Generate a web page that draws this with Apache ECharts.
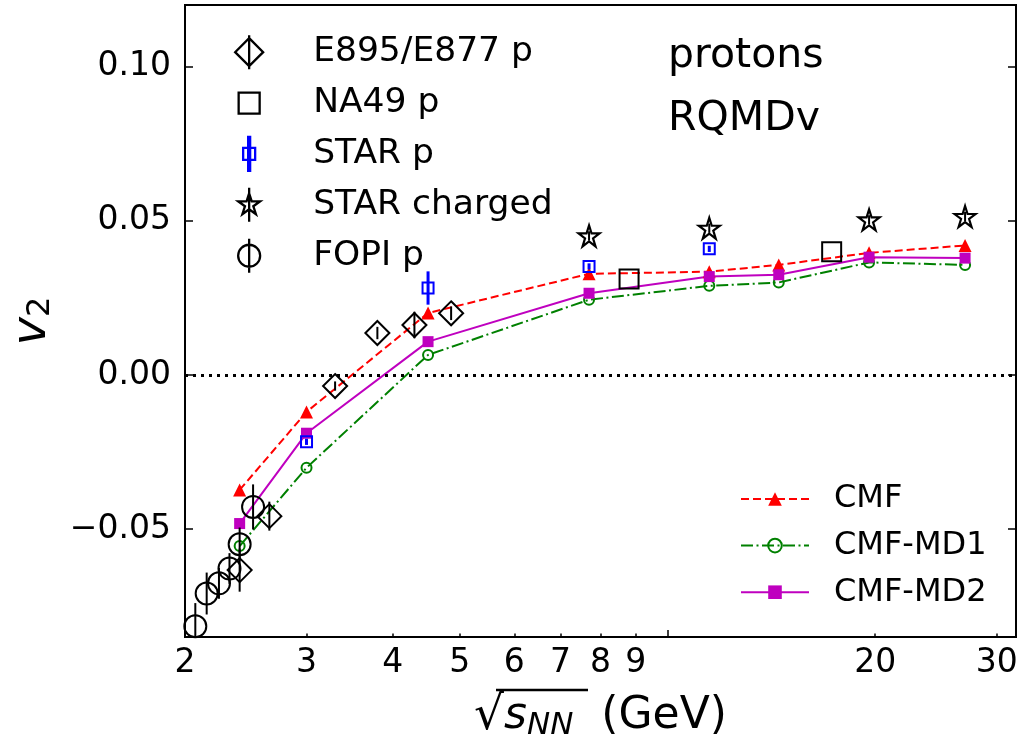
<!DOCTYPE html>
<html>
<head>
<meta charset="utf-8">
<script src="https://cdn.jsdelivr.net/npm/echarts@6/dist/echarts.min.js"></script>
<style>
html,body{margin:0;padding:0;background:#fff;}
#chart{width:1035px;height:742px;}
</style>
</head>
<body>
<div id="chart"></div>
<script>
// ---- data ----
const xTickValues = [3, 4, 5, 6, 7, 8, 9, 20, 30];
const xMajorTickValues = [10];
const xTickLabels = [2, 3, 4, 5, 6, 7, 8, 9, 20, 30];
const yTickValues = [-0.05, 0, 0.05, 0.10];

const energyModel = [2.4, 3.0, 4.5, 7.7, 11.5, 14.5, 19.6, 27];
const v2CMF = [-0.0373, -0.0120, 0.0201, 0.0328, 0.0335, 0.0357, 0.0396, 0.0420];
const v2MD1 = [-0.0555, -0.0301, 0.0065, 0.0244, 0.0289, 0.0300, 0.0365, 0.0357];
const v2MD2 = [-0.0482, -0.0189, 0.0108, 0.0265, 0.0319, 0.0325, 0.0382, 0.0379];

const energyE895 = [2.4, 2.65, 3.3, 3.8, 4.3, 4.86];
const v2E895 = [-0.0633, -0.0458, -0.0036, 0.0136, 0.0162, 0.0200];
const errE895 = [0.0070, 0.0047, 0.0015, 0.0020, 0.0043, 0.0022];

const energyNA49 = [8.8, 17.3];
const v2NA49 = [0.0311, 0.0400];

const energySTARp = [3.0, 4.5, 7.7, 11.5];
const v2STARp = [-0.0217, 0.0282, 0.0352, 0.0409];
const errSTARp = [0.0010, 0.0054, 0.0010, 0.0010];

const energySTARch = [7.7, 11.5, 19.6, 27];
const v2STARch = [0.0451, 0.0476, 0.0503, 0.0514];
const errSTARch = [0.0015, 0.0015, 0.0015, 0.0015];

const energyFOPI = [2.07, 2.15, 2.24, 2.32, 2.40, 2.51];
const v2FOPI = [-0.0815, -0.0709, -0.0676, -0.0628, -0.0549, -0.0428];
const errFOPI = [0.0075, 0.0068, 0.0050, 0.0050, 0.0054, 0.0073];

// ---- helpers ----
const FONT = 'DejaVu Sans';
const pairs = (xs, ys) => xs.map((x, i) => [x, ys[i]]);
const STAR = 'M0,-100 L22.45,-30.9 L95.1,-30.9 L36.3,11.8 L58.8,80.9 L0,38.2 L-58.8,80.9 L-36.3,11.8 L-95.1,-30.9 L-22.45,-30.9 Z';

function errorSeries(name, xs, ys, es, color, width) {
  return {
    name: name, type: 'custom', clip: true, z: 4, silent: true,
    data: xs.map((x, i) => [x, ys[i] - es[i], ys[i] + es[i]]),
    encode: { x: 0, y: [1, 2] },
    renderItem: function (params, api) {
      const a = api.coord([api.value(0), api.value(1)]);
      const b = api.coord([api.value(0), api.value(2)]);
      return { type: 'line', shape: { x1: a[0], y1: a[1], x2: b[0], y2: b[1] },
               style: { stroke: color, lineWidth: width } };
    }
  };
}

const openStyle = (c, w) => ({ color: 'rgba(255,255,255,0)', borderColor: c, borderWidth: w, opacity: 1 });

// legend icons (pixel units, padded to a 28x34 box)
const PAD = 'M-14,-17 M14,17 ';
const iconDiamond = 'path://' + PAD + 'M0,-14 L14,0 L0,14 L-14,0 Z M0,-17 L0,17';
const iconSquare = 'path://' + PAD + 'M-10.5,-10.5 L10.5,-10.5 L10.5,10.5 L-10.5,10.5 Z';
const iconSTARp = 'path://' + PAD + 'M-6,-6 L6,-6 L6,6 L-6,6 Z M-1,-17 L1,-17 L1,17 L-1,17 Z';
const iconStar = 'path://' + PAD + 'M0,-11.5 L2.58,-3.55 L10.94,-3.55 L4.17,1.36 L6.76,9.3 L0,4.39 L-6.76,9.3 L-4.17,1.36 L-10.94,-3.55 L-2.58,-3.55 Z M0,-17 L0,17';
const iconCircle = 'path://' + PAD + 'M-11,0 A11,11 0 1,0 11,0 A11,11 0 1,0 -11,0 Z M0,-17 L0,17';

const chart = echarts.init(document.getElementById('chart'), null, { renderer: 'canvas' });

const commonX = { type: 'log', logBase: 10, min: 2, max: 32, splitLine: { show: false } };
const commonY = { type: 'value', min: -0.085, max: 0.12, splitLine: { show: false } };

const option = {
  animation: false,
  backgroundColor: '#fff',
  textStyle: { fontFamily: FONT },
  grid: { left: 185, right: 19, top: 5, bottom: 105, show: true, borderColor: '#000', borderWidth: 2,
          backgroundColor: 'transparent', containLabel: false, outerBoundsMode: 'none' },
  xAxis: [
    Object.assign({}, commonX, {
      position: 'bottom',
      axisLine: { show: true, onZero: false, lineStyle: { color: '#000', width: 2 } },
      axisTick: { show: true, inside: true, length: 3.5, lineStyle: { color: '#000', width: 1.5 }, customValues: xTickValues },
      axisLabel: { show: true, customValues: xTickLabels, fontSize: 33, color: '#000', margin: 10, fontFamily: FONT,
                   formatter: v => String(Math.round(v)) },
      minorTick: { show: false },
      name: '{sq|\u221A}{s|s}{sub|NN}{t|  (GeV)}',
      nameLocation: 'middle', nameGap: 55,
      nameTextStyle: { color: '#000', fontFamily: FONT, rich: {
        sq: { fontSize: 47, fontFamily: FONT, color: '#000' },
        s: { fontSize: 44, fontStyle: 'italic', fontFamily: FONT, color: '#000' },
        sub: { fontSize: 31, fontStyle: 'italic', fontFamily: FONT, color: '#000', padding: [18, 0, 0, 0] },
        t: { fontSize: 44, fontFamily: FONT, color: '#000' }
      } }
    }),
    Object.assign({}, commonX, {
      position: 'bottom',
      axisLine: { show: false, onZero: false },
      axisTick: { show: true, inside: true, length: 7, lineStyle: { color: '#000', width: 1.5 }, customValues: xMajorTickValues },
      axisLabel: { show: false }
    })
  ],
  yAxis: [
    Object.assign({}, commonY, {
      position: 'left',
      axisLine: { show: true, onZero: false, lineStyle: { color: '#000', width: 2 } },
      axisTick: { show: true, inside: true, length: 8, lineStyle: { color: '#000', width: 1.5 }, customValues: yTickValues },
      axisLabel: { show: true, customValues: yTickValues, fontSize: 33, color: '#000', margin: 14, fontFamily: FONT,
                   formatter: v => (v < -1e-9 ? '\u2212' : '') + Math.abs(v).toFixed(2) },
      name: '{v|v}{s|2}', nameLocation: 'middle', nameGap: 128, nameRotate: 90,
      nameTextStyle: { color: '#000', rich: {
        v: { fontSize: 48, fontStyle: 'italic', fontFamily: FONT, color: '#000' },
        s: { fontSize: 32, fontFamily: FONT, color: '#000', padding: [16, 0, 0, 0] }
      } }
    }),
    Object.assign({}, commonY, {
      position: 'right',
      axisLine: { show: true, onZero: false, lineStyle: { color: '#000', width: 2 } },
      axisTick: { show: true, inside: true, length: 8, lineStyle: { color: '#000', width: 1.5 }, customValues: yTickValues },
      axisLabel: { show: false }
    })
  ],
  legend: [
    {
      orient: 'vertical', left: 234, top: 34, padding: 0, itemWidth: 28, itemHeight: 34, itemGap: 14.6,
      selectedMode: false,
      itemStyle: { borderWidth: 2.3, opacity: 1 },
      textStyle: { fontSize: 34.5, color: '#000', fontFamily: FONT, padding: [0, 0, 0, 45] },
      data: [
        { name: 'E895/E877 p', icon: iconDiamond },
        { name: 'NA49 p', icon: iconSquare },
        { name: 'STAR p', icon: iconSTARp },
        { name: 'STAR charged', icon: iconStar },
        { name: 'FOPI p', icon: iconCircle }
      ]
    },
    {
      orient: 'vertical', left: 740, top: 483, padding: 0, itemWidth: 68, itemHeight: 17, itemGap: 14.6,
      selectedMode: false,
      textStyle: { fontSize: 32, color: '#000', fontFamily: FONT, padding: [0, 0, 0, 20] },
      data: ['CMF', 'CMF-MD1', 'CMF-MD2']
    }
  ],
  graphic: [
    { type: 'text', left: 668, top: 36, style: { text: 'protons', font: '41px "DejaVu Sans"', fill: '#000' } },
    { type: 'text', left: 668, top: 99, style: { text: 'RQMDv', font: '41px "DejaVu Sans"', fill: '#000' } },
    { type: 'line', shape: { x1: 496, y1: 690, x2: 588, y2: 690 }, style: { stroke: '#000', lineWidth: 2.5 } }
  ],
  series: [
    {
      name: 'CMF', type: 'line', data: pairs(energyModel, v2CMF), z: 2,
      symbol: 'triangle', symbolSize: 13,
      lineStyle: { color: '#ff0000', width: 2, type: [8, 4] },
      itemStyle: { color: '#ff0000' },
      markLine: { silent: true, symbol: 'none', label: { show: false },
                  lineStyle: { color: '#000', width: 3, type: [3, 5] },
                  data: [{ yAxis: 0 }] }
    },
    {
      name: 'CMF-MD1', type: 'line', data: pairs(energyModel, v2MD1), z: 2,
      symbol: 'circle', symbolSize: 10,
      lineStyle: { color: '#008000', width: 2, type: [12, 3.5, 2, 3.5] },
      itemStyle: openStyle('#008000', 2)
    },
    {
      name: 'CMF-MD2', type: 'line', data: pairs(energyModel, v2MD2), z: 2,
      symbol: 'rect', symbolSize: 11,
      lineStyle: { color: '#bf00bf', width: 2, type: 'solid' },
      itemStyle: { color: '#bf00bf' }
    },
    {
      name: 'E895/E877 p', type: 'scatter', data: pairs(energyE895, v2E895), z: 3,
      symbol: 'diamond', symbolSize: 24, itemStyle: openStyle('#000', 2)
    },
    errorSeries('E895 err', energyE895, v2E895, errE895, '#000', 2),
    {
      name: 'NA49 p', type: 'scatter', data: pairs(energyNA49, v2NA49), z: 3,
      symbol: 'rect', symbolSize: 19, itemStyle: openStyle('#000', 2)
    },
    {
      name: 'STAR p', type: 'scatter', data: pairs(energySTARp, v2STARp), z: 3,
      symbol: 'rect', symbolSize: 11, itemStyle: openStyle('#0000ff', 2)
    },
    errorSeries('STAR p err', energySTARp, v2STARp, errSTARp, '#0000ff', 3),
    {
      name: 'STAR charged', type: 'scatter', data: pairs(energySTARch, v2STARch), z: 3,
      symbol: 'path://' + STAR, symbolSize: 21, itemStyle: openStyle('#000', 2.2)
    },
    errorSeries('STAR ch err', energySTARch, v2STARch, errSTARch, '#000', 2),
    {
      name: 'FOPI p', type: 'scatter', data: pairs(energyFOPI, v2FOPI), z: 3,
      symbol: 'circle', symbolSize: 22, itemStyle: openStyle('#000', 2)
    },
    errorSeries('FOPI err', energyFOPI, v2FOPI, errFOPI, '#000', 2)
  ]
};
chart.setOption(option);
</script>
</body>
</html>
